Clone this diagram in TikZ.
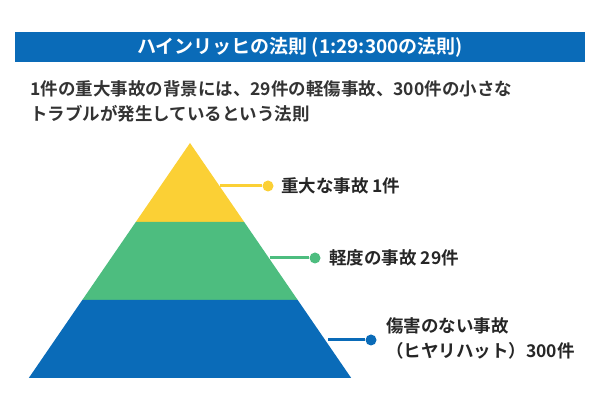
\documentclass[tikz,border=0pt]{standalone}
\usepackage{fontspec}
\setmainfont{Noto Sans CJK JP}[BoldFont={Noto Sans CJK JP Bold}]
\begin{document}
\begin{tikzpicture}[x=1pt,y=-1pt,
  lbl/.style={anchor=west,font=\bfseries\fontsize{17.5}{25}\selectfont,text=black!85,align=left,inner sep=0},
  dot/.style={circle,inner sep=0,minimum size=11pt},
  con/.style={line width=3pt}]
\definecolor{cb}{HTML}{0A6BB8}
\definecolor{cg}{HTML}{4DBD7F}
\definecolor{cy}{HTML}{FBD035}
\useasboundingbox (0,0) rectangle (600,411);
\fill[cb] (15,32) rectangle (585,62);
\node[text=white,font=\bfseries\fontsize{19}{22}\selectfont] (title) at (300,47) {ハインリッヒの法則 (1:29:300の法則)};
\node[anchor=north west,font=\bfseries\fontsize{17.5}{25}\selectfont,text=black!80,align=left,inner sep=0] (desc) at (30,80) {1件の重大事故の背景には、29件の軽傷事故、300件の小さな\\トラブルが発生しているという法則};
\fill[cy] (190,143) -- (244.2,222) -- (135.8,222) -- cycle;
\fill[cg] (135.8,222) -- (244.2,222) -- (297.7,300) -- (82.3,300) -- cycle;
\fill[cb] (82.3,300) -- (297.7,300) -- (351.2,378) -- (28.8,378) -- cycle;
\coordinate (ya) at (220,186);
\node[dot,fill=cy] (yd) at (268,186) {};
\draw[con,cy] (ya) -- (yd);
\node[lbl] (yl) at (281,186) {重大な事故 1件};
\coordinate (ga) at (270,258);
\node[dot,fill=cg] (gd) at (315,258) {};
\draw[con,cg] (ga) -- (gd);
\node[lbl] (gl) at (329,258) {軽度の事故 29件};
\coordinate (ba) at (328,340);
\node[dot,fill=cb] (bd) at (371,340) {};
\draw[con,cb] (ba) -- (bd);
\node[lbl] (bl) at (386,338) {傷害のない事故\\（ヒヤリハット）300件};
\end{tikzpicture}
\end{document}
